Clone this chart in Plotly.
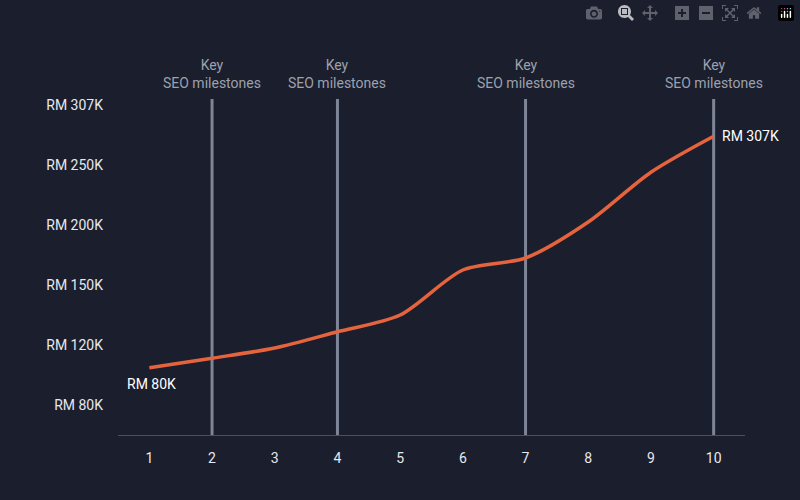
import plotly.graph_objects as go

months = [1, 2, 3, 4, 5, 6, 7, 8, 9, 10]
# positions on the evenly spaced label scale (0 = RM 80K ... 5 = RM 307K)
revenue_pos = [0.62, 0.78, 0.95, 1.22, 1.5, 2.25, 2.45, 3.05, 3.88, 4.48]
tick_labels = ["RM 80K", "RM 120K", "RM 150K", "RM 200K", "RM 250K", "RM 307K"]
milestones = [2, 4, 7, 10]

bg = "#1b1e2d"
fig = go.Figure()

for m in milestones:
    fig.add_shape(type="line", x0=m, x1=m, y0=-0.5, y1=5.1,
                  line=dict(color="#7d8597", width=3), layer="below")
    fig.add_annotation(x=m, y=5.2, yanchor="bottom", text="Key<br>SEO milestones",
                       showarrow=False, font=dict(color="#9ba1ae", size=14))

fig.add_trace(go.Scatter(x=months, y=revenue_pos, mode="lines",
                         line=dict(color="#e5643d", width=3.5, shape="spline", smoothing=0.8),
                         hoverinfo="skip"))

fig.add_annotation(x=1, y=revenue_pos[0], yshift=-16, xshift=2, text="RM 80K",
                   showarrow=False, font=dict(color="#ffffff", size=14))
fig.add_annotation(x=10, y=revenue_pos[-1], xshift=6, xanchor="left", text="RM 307K",
                   showarrow=False, font=dict(color="#ffffff", size=14))

fig.update_layout(
    width=800, height=500, paper_bgcolor=bg, plot_bgcolor=bg,
    margin=dict(l=118, r=55, t=93, b=65), showlegend=False,
    font=dict(family="Roboto", color="#e6e8ee", size=14),
    xaxis=dict(range=[0.5, 10.5], tickvals=months, showgrid=False, zeroline=False,
               showline=True, linecolor="#4a5061", ticks="", ticklabelstandoff=10),
    yaxis=dict(range=[-0.5, 5.2], tickvals=list(range(6)), ticktext=tick_labels,
               showgrid=False, zeroline=False, showline=False, ticklabelstandoff=14),
)

fig.write_html("out.html", post_script="document.body.style.margin='0';")
